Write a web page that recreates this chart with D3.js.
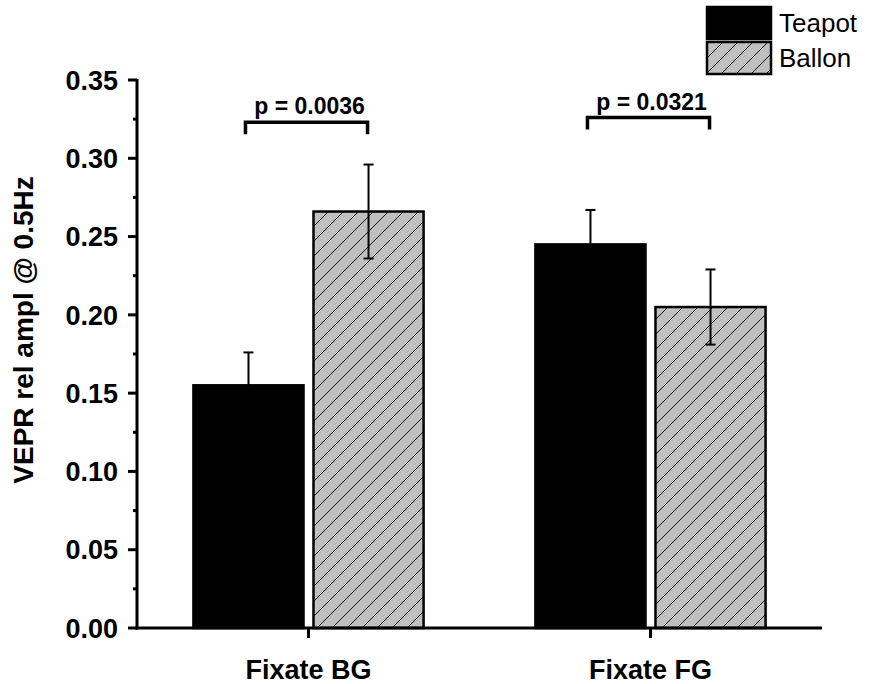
<!DOCTYPE html>
<html>
<head>
<meta charset="utf-8">
<script src="https://cdn.jsdelivr.net/npm/d3@7"></script>
<style>
  html, body { margin: 0; padding: 0; background: #fff; }
  svg { display: block; font-family: "Liberation Sans", Arial, sans-serif; }
</style>
</head>
<body>
<svg id="chart" width="872" height="684"></svg>
<script>
// Conditions and series
const categories = ["Fixate BG", "Fixate FG"];
const seriesNames = ["Teapot", "Ballon"];
const teapotMeans = [0.155, 0.245];
const teapotErrors = [0.021, 0.022];
const ballonMeans = [0.266, 0.205];
const ballonErrors = [0.030, 0.024];
const yTicks = [0, 0.05, 0.10, 0.15, 0.20, 0.25, 0.30, 0.35];
const pLabels = ["p = 0.0036", "p = 0.0321"];
const bracketLevels = [0.323, 0.326];

const svg = d3.select("#chart");
const margin = { left: 137, right: 50, top: 80, bottom: 56 };
const width = 872, height = 684;

const y = d3.scaleLinear().domain([0, 0.35]).range([height - margin.bottom, margin.top]);
const x0 = d3.scaleBand().domain(categories).range([margin.left, width - margin.right])
  .paddingInner(0.327).paddingOuter(0.165);
const x1 = d3.scaleBand().domain(seriesNames).range([0, x0.bandwidth()]).paddingInner(0.083);

// Hatch pattern for Ballon bars
const defs = svg.append("defs");
const pat = defs.append("pattern")
  .attr("id", "hatch").attr("patternUnits", "userSpaceOnUse")
  .attr("width", 15).attr("height", 15);
pat.append("rect").attr("width", 15).attr("height", 15).attr("fill", "#c0c0c0");
pat.append("path").attr("d", "M-2,2 L2,-2 M0,15 L15,0 M13,17 L17,13")
  .attr("stroke", "#000").attr("stroke-width", 0.9);

const data = categories.map((c, i) => [
  { cat: c, s: "Teapot", v: teapotMeans[i], e: teapotErrors[i] },
  { cat: c, s: "Ballon", v: ballonMeans[i], e: ballonErrors[i] }
]).flat();

const fillFor = s => s === "Teapot" ? "#000" : "url(#hatch)";

// Bars
svg.append("g").selectAll("rect").data(data).join("rect")
  .attr("x", d => x0(d.cat) + x1(d.s))
  .attr("y", d => y(d.v))
  .attr("width", x1.bandwidth())
  .attr("height", d => y(0) - y(d.v))
  .attr("fill", d => fillFor(d.s))
  .attr("stroke", "#000").attr("stroke-width", 2.5);

// Error bars
const eb = svg.append("g").attr("stroke", "#000").attr("stroke-width", 2);
data.forEach(d => {
  const cx = x0(d.cat) + x1(d.s) + x1.bandwidth() / 2;
  const lo = d.s === "Teapot" ? d.v : d.v - d.e;
  eb.append("line").attr("x1", cx).attr("x2", cx).attr("y1", y(lo)).attr("y2", y(d.v + d.e));
  eb.append("line").attr("x1", cx - 5).attr("x2", cx + 5).attr("y1", y(d.v + d.e)).attr("y2", y(d.v + d.e));
  if (d.s !== "Teapot") {
    eb.append("line").attr("x1", cx - 5).attr("x2", cx + 5).attr("y1", y(d.v - d.e)).attr("y2", y(d.v - d.e));
  }
});

// Significance brackets
categories.forEach((c, i) => {
  const xa = x0(c) + x1("Teapot") + x1.bandwidth() / 2 - 3;
  const xb = x0(c) + x1("Ballon") + x1.bandwidth() / 2 - 1;
  const yl = y(bracketLevels[i]);
  svg.append("path")
    .attr("d", `M${xa},${yl + 12} L${xa},${yl} L${xb},${yl} L${xb},${yl + 12}`)
    .attr("fill", "none").attr("stroke", "#000").attr("stroke-width", 3.5);
  svg.append("text").attr("x", (xa + xb) / 2 + 3).attr("y", yl - 8)
    .attr("text-anchor", "middle").attr("font-size", 23).attr("font-weight", "bold")
    .text(pLabels[i]);
});

// Y axis
const yAxis = svg.append("g").attr("transform", `translate(${margin.left},0)`);
yAxis.append("line").attr("x1", 0).attr("x2", 0).attr("y1", y(0) + 1.5).attr("y2", y(0.35) - 1)
  .attr("stroke", "#000").attr("stroke-width", 3);
yAxis.selectAll(".major").data(yTicks).join("line")
  .attr("x1", -9).attr("x2", 0).attr("y1", d => y(d)).attr("y2", d => y(d))
  .attr("stroke", "#000").attr("stroke-width", 3);
yAxis.selectAll(".minor").data(yTicks.slice(0, -1).map(d => d + 0.025)).join("line")
  .attr("x1", -4).attr("x2", 0).attr("y1", d => y(d)).attr("y2", d => y(d))
  .attr("stroke", "#000").attr("stroke-width", 3);
yAxis.selectAll("text").data(yTicks).join("text")
  .attr("x", -19).attr("y", d => y(d)).attr("dy", "0.36em")
  .attr("text-anchor", "end").attr("font-size", 27).attr("font-weight", "bold")
  .text(d => d3.format(".2f")(d));

// X axis
const xAxis = svg.append("g");
xAxis.append("line").attr("x1", margin.left - 1.5).attr("x2", width - margin.right).attr("y1", y(0)).attr("y2", y(0))
  .attr("stroke", "#000").attr("stroke-width", 3);
categories.forEach(c => {
  const cx = x0(c) + x0.bandwidth() / 2;
  xAxis.append("line").attr("x1", cx).attr("x2", cx).attr("y1", y(0)).attr("y2", y(0) + 10)
    .attr("stroke", "#000").attr("stroke-width", 3);
  xAxis.append("text").attr("x", cx).attr("y", y(0) + 51)
    .attr("text-anchor", "middle").attr("font-size", 27).attr("font-weight", "bold").text(c);
});

// Y axis title
svg.append("text")
  .attr("transform", `translate(33,${(y(0) + y(0.35)) / 2 - 24}) rotate(-90)`)
  .attr("text-anchor", "middle").attr("font-size", 28).attr("font-weight", "bold")
  .text("VEPR rel ampl @ 0.5Hz");

// Legend
const legend = svg.append("g");
seriesNames.forEach((s, i) => {
  legend.append("rect").attr("x", 707).attr("y", 7 + i * 35).attr("width", 64).attr("height", 32)
    .attr("fill", fillFor(s)).attr("stroke", "#000").attr("stroke-width", 2.5);
  legend.append("text").attr("x", 779).attr("y", 23 + i * 35).attr("dy", "0.36em")
    .attr("font-size", 26).text(s);
});
</script>
</body>
</html>
